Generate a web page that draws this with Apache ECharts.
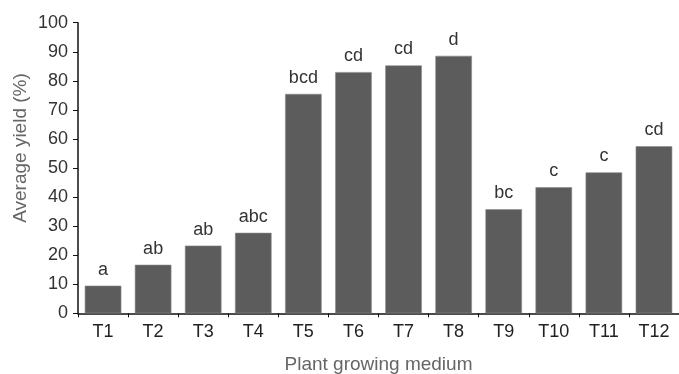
<!DOCTYPE html>
<html><head><meta charset="utf-8">
<script src="https://cdn.jsdelivr.net/npm/echarts@6/dist/echarts.min.js"></script>
<style>html,body{margin:0;padding:0;background:#fff}#c{width:679px;height:374px}</style>
</head><body><div id="c"></div>
<script>
const categories = ['T1','T2','T3','T4','T5','T6','T7','T8','T9','T10','T11','T12'];
const yieldValues = [9.5, 16.7, 23.3, 27.7, 75.5, 83.0, 85.3, 88.6, 35.8, 43.4, 48.5, 57.5];
const letters = ['a','ab','ab','abc','bcd','cd','cd','d','bc','c','c','cd'];
const yTitle = 'Average yield (%)';
const xTitle = 'Plant growing medium';

const font = 'Liberation Sans, Arial, sans-serif';
const chart = echarts.init(document.getElementById('c'), null, {renderer:'canvas'});
chart.setOption({
  animation: false,
  grid: {left: 78, right: 0, top: 22.7, bottom: 60.7, containLabel: false, outerBoundsMode: 'none'},
  xAxis: {
    type: 'category', data: categories,
    axisLine: {lineStyle: {color: '#111', width: 1.5}},
    axisTick: {show: true, alignWithLabel: false, length: 4, inside: false, lineStyle: {color: '#111'}},
    axisLabel: {color: '#222', fontSize: 18, fontFamily: font, margin: 10},
    name: xTitle, nameLocation: 'middle', nameGap: 42,
    nameTextStyle: {color: '#666', fontSize: 19, fontFamily: font}
  },
  yAxis: {
    type: 'value', min: 0, max: 100, interval: 10,
    splitLine: {show: false},
    axisLine: {show: true, lineStyle: {color: '#111', width: 1.5}},
    axisTick: {show: true, length: 5, lineStyle: {color: '#111'}},
    axisLabel: {color: '#333', fontSize: 18, fontFamily: font, margin: 10},
    name: yTitle, nameLocation: 'middle', nameGap: 48, nameRotate: 90, nameMoveOverlap: false,
    nameTextStyle: {color: '#666', fontSize: 19, fontFamily: font, padding: [0, 0, 0, 40]}
  },
  series: [{
    type: 'bar', data: yieldValues, barWidth: '73%',
    itemStyle: {color: '#5c5c5c', borderColor: '#8a8a8a', borderWidth: 0.6},
    label: {
      show: true, position: 'top', distance: 7,
      formatter: p => letters[p.dataIndex],
      color: '#333', fontSize: 18, fontFamily: font
    }
  }]
});
</script></body></html>
